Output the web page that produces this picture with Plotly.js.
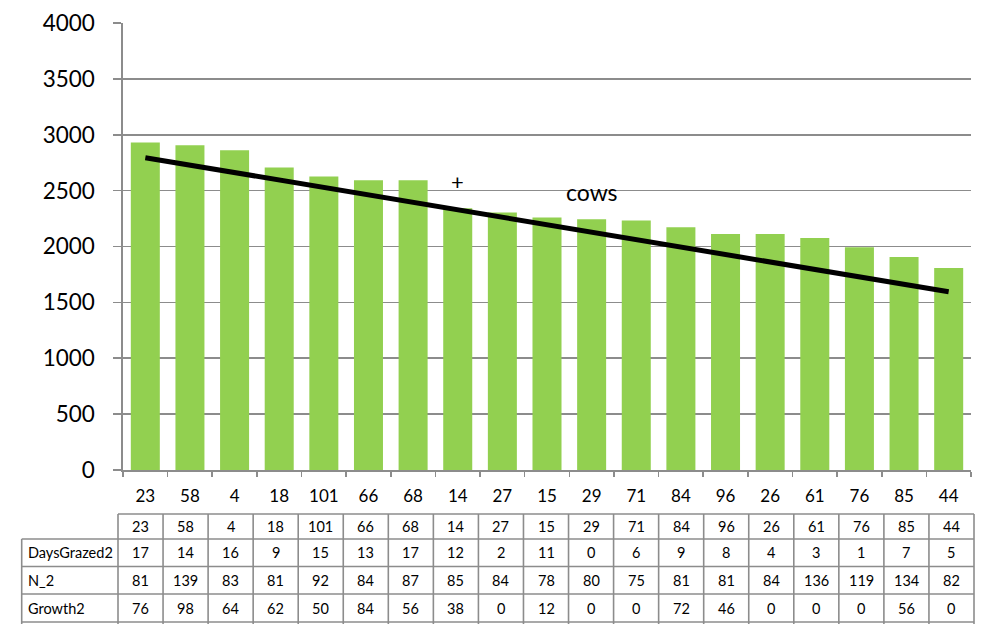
<!DOCTYPE html>
<html>
<head>
<meta charset="utf-8">
<script src="https://cdn.plot.ly/plotly-3.0.1.min.js"></script>
<style>html,body{margin:0;padding:0;background:#fff;}#chart{width:987px;height:624px;}</style>
</head>
<body>
<div id="chart"></div>
<script>
// ---- data ----
const categories = ["23","58","4","18","101","66","68","14","27","15","29","71","84","96","26","61","76","85","44"];
const values = [2930,2905,2862,2707,2626,2593,2593,2342,2304,2259,2244,2232,2172,2112,2112,2076,1993,1906,1807];
const trendX = ["23","44"];
const trendY = [2795,1595];
const rowLabels = ["DaysGrazed2","N_2","Growth2"];
const daysGrazed2 = [17,14,16,9,15,13,17,12,2,11,0,6,9,8,4,3,1,7,5];
const n2 = [81,139,83,81,92,84,87,85,84,78,80,75,81,81,84,136,119,134,82];
const growth2 = [76,98,64,62,50,84,56,38,0,12,0,0,72,46,0,0,0,56,0];
const plusLabel = {text:"+", cat:"14", y:2584};
const cowsLabel = {text:"cows", cat:"29", y:2485};

// ---- layout geometry ----
const W = 987, H = 624;
const ML = 123, MR = 16, MT = 23, MB = 154;
const PW = W - ML - MR, PH = H - MT - MB;
const px2x = p => (p - ML) / PW;
const py2y = p => (H - MB - p) / PH;
const FONT = "Lato, 'Liberation Sans', sans-serif";
const GRID = "#8c8c8c";

// table geometry
const tLeft = 21.7, tColStart = 118, tRight = 974;
const colW = (tRight - tColStart) / categories.length;
const rowEdges = [514, 539, 566.5, 594, 622];

const shapes = [];
const annotations = [];
const line = (x0,y0,x1,y1) => shapes.push({type:"line", xref:"paper", yref:"paper",
  x0:px2x(x0), x1:px2x(x1), y0:py2y(y0), y1:py2y(y1), line:{color:GRID, width:1.6}, layer:"above"});

// horizontal lines
line(tColStart, rowEdges[0], tRight, rowEdges[0]);
for (let r = 1; r < rowEdges.length - 1; r++) line(tLeft, rowEdges[r], tRight, rowEdges[r]);
line(tLeft, rowEdges[rowEdges.length-1], tRight, rowEdges[rowEdges.length-1]);
// vertical lines
line(tLeft, rowEdges[1], tLeft, H);
for (let i = 0; i <= categories.length; i++) line(tColStart + i*colW, rowEdges[0], tColStart + i*colW, H);

const rows = [categories, daysGrazed2, n2, growth2];
rows.forEach((row, r) => {
  const cy = (rowEdges[r] + rowEdges[r+1]) / 2;
  row.forEach((v, i) => {
    annotations.push({xref:"paper", yref:"paper", x:px2x(tColStart + (i+0.5)*colW), y:py2y(cy),
      text:String(v), showarrow:false, xanchor:"center", yanchor:"middle",
      font:{family:FONT, size:14.5, color:"#000"}});
  });
  if (r > 0) annotations.push({xref:"paper", yref:"paper", x:px2x(tLeft + 4), y:py2y(cy),
      text:rowLabels[r-1], showarrow:false, xanchor:"left", yanchor:"middle",
      font:{family:FONT, size:14.5, color:"#000"}});
});

annotations.push({xref:"x", yref:"y", x:categories.indexOf(plusLabel.cat), y:plusLabel.y, text:plusLabel.text, showarrow:false,
  font:{family:FONT, size:22, color:"#000"}});
annotations.push({xref:"x", yref:"y", x:categories.indexOf(cowsLabel.cat), y:cowsLabel.y, text:cowsLabel.text, showarrow:false,
  font:{family:FONT, size:23, color:"#000"}});

const data = [
  {type:"bar", x:categories, y:values, marker:{color:"#92D050"}, hoverinfo:"x+y"},
  {type:"scatter", mode:"lines", x:trendX, y:trendY, line:{color:"#000", width:5}}
];

const layout = {
  width:W, height:H,
  margin:{l:ML, r:MR, t:MT, b:MB, pad:0},
  paper_bgcolor:"#fff", plot_bgcolor:"#fff",
  showlegend:false,
  bargap:0.35,
  font:{family:FONT, color:"#000"},
  xaxis:{type:"category", categoryorder:"array", categoryarray:categories, range:[-0.5, categories.length-0.5],
    showline:true, linecolor:GRID, linewidth:1.6, ticks:"outside", tickson:"boundaries",
    ticklen:5, tickcolor:GRID, tickwidth:1.6, showgrid:false, zeroline:false, tickangle:0,
    tickfont:{family:FONT, size:17, color:"#000"}, ticklabelstandoff:10, fixedrange:true},
  yaxis:{range:[0,4000], dtick:500, showline:true, linecolor:GRID, linewidth:1.6, ticks:"outside", ticklen:8,
    tickcolor:GRID, tickwidth:1.6, gridcolor:GRID, gridwidth:1.6, zeroline:false,
    tickfont:{family:FONT, size:22.5, color:"#000"}, ticklabelstandoff:14, fixedrange:true},
  shapes:shapes,
  annotations:annotations
};

Plotly.newPlot("chart", data, layout, {displayModeBar:false, staticPlot:true});
</script>
</body>
</html>
